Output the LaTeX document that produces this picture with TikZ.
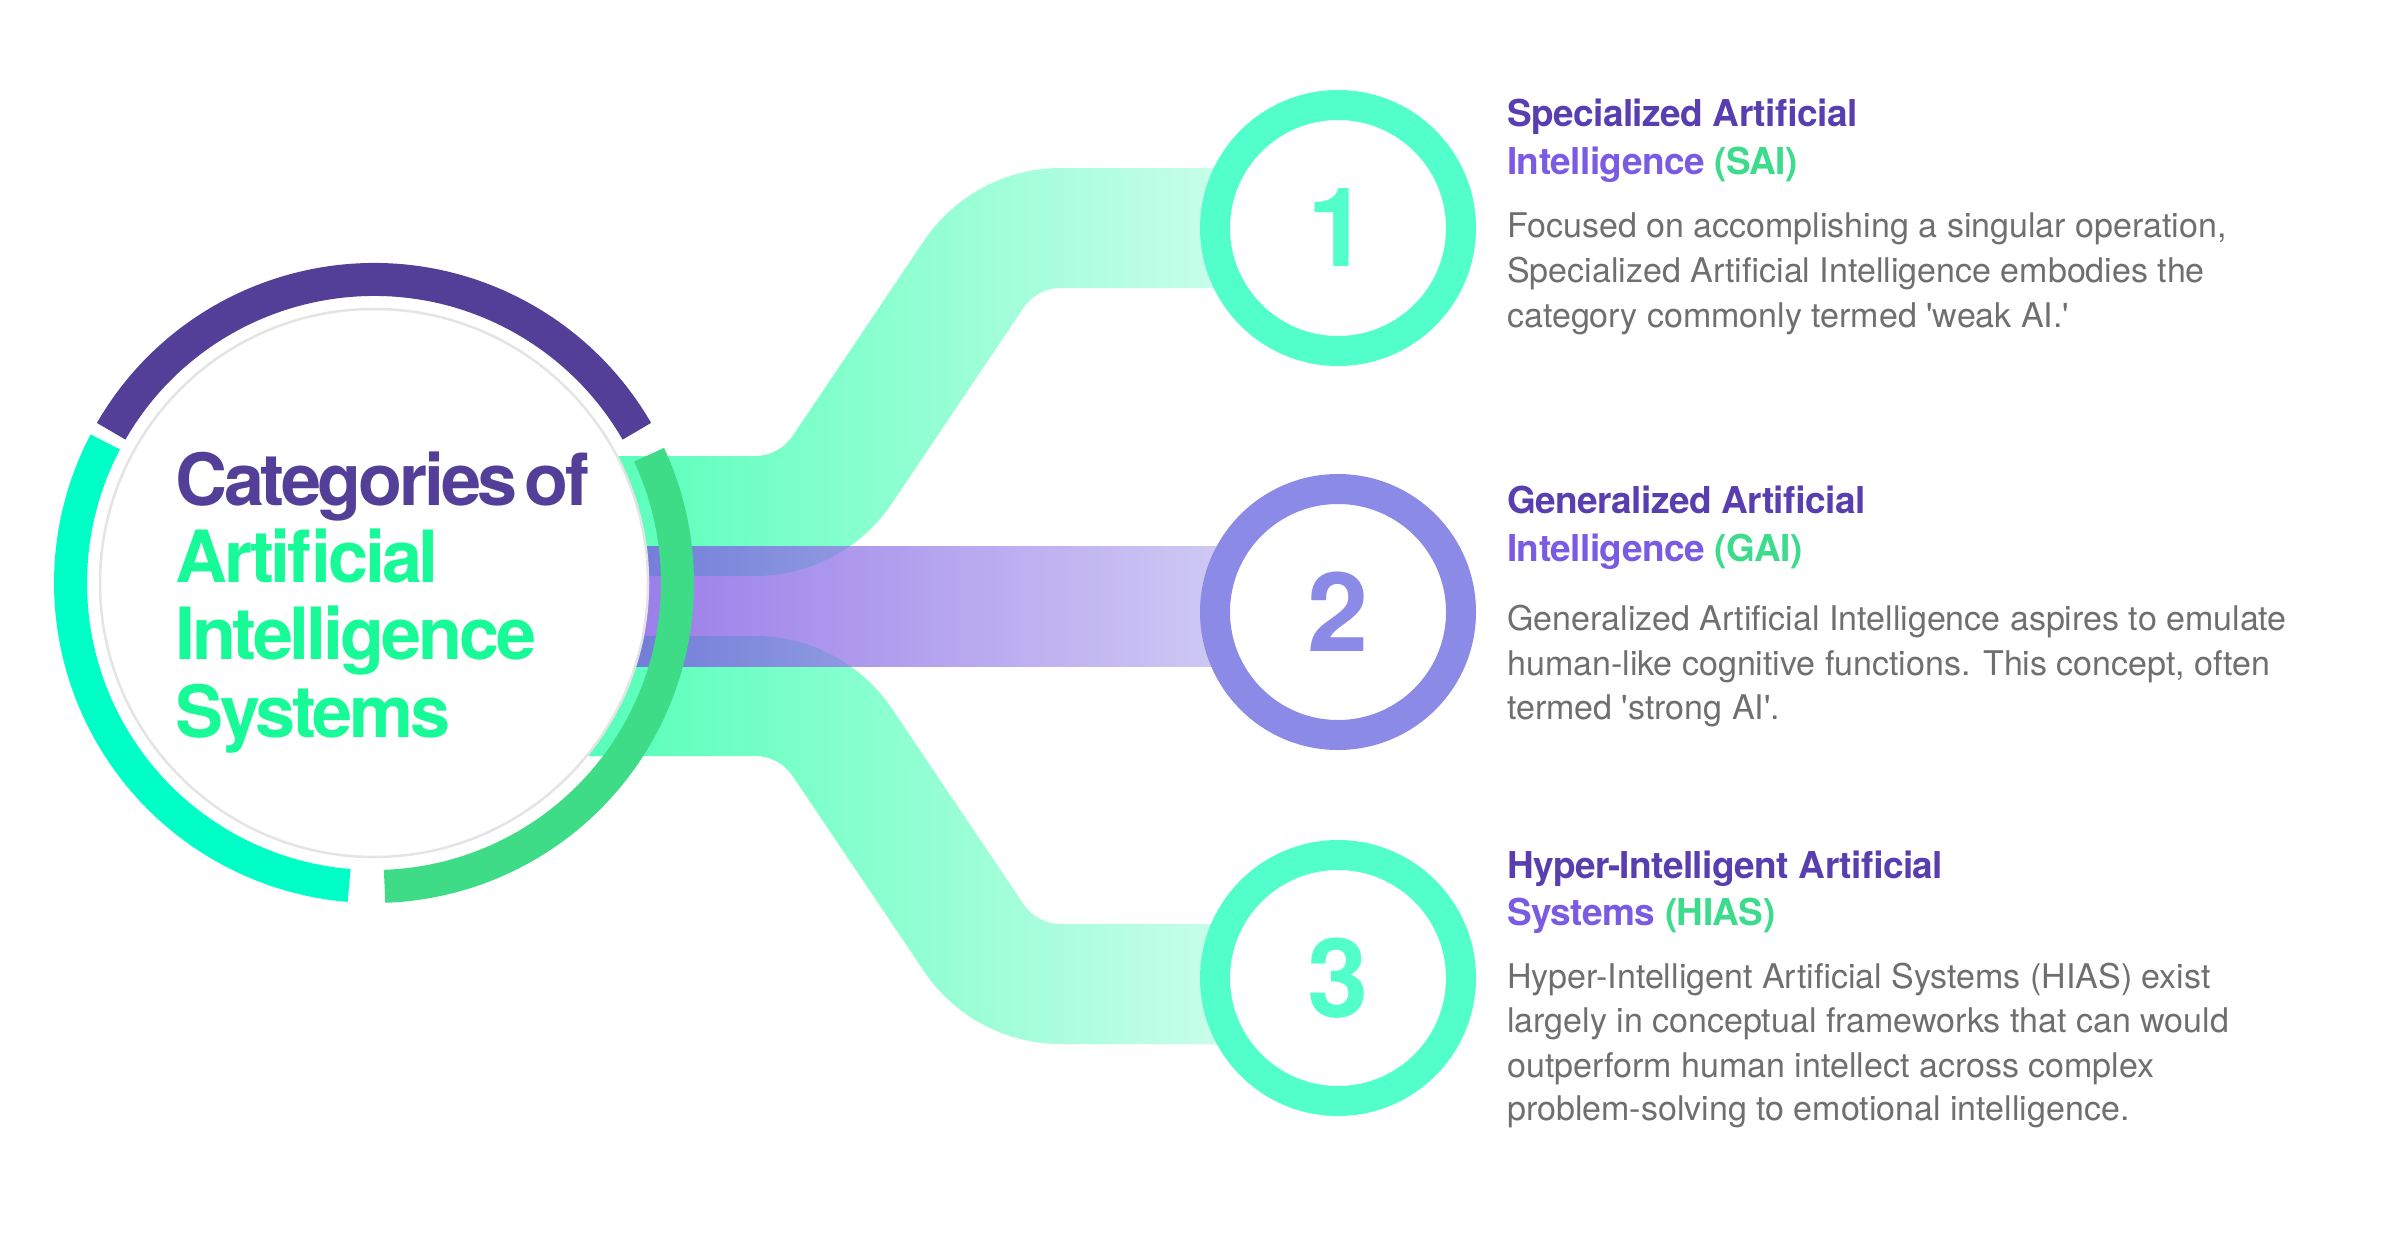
\documentclass[tikz,border=0pt]{standalone}
\usepackage{fontspec}
\setmainfont{TeX Gyre Heros}
\newfontfamily\tightfamily{TeX Gyre Heros}[LetterSpace=-4.5]
\newfontfamily\semifamily{TeX Gyre Heros}[LetterSpace=-1.5]
\usetikzlibrary{calc}
\definecolor{ringpurple}{HTML}{533F97}
\definecolor{ringcyan}{HTML}{00FFC6}
\definecolor{ringgreen}{HTML}{3FDC87}
\definecolor{titlegreen}{HTML}{18FA97}
\definecolor{graycirc}{HTML}{E4E4E4}
\definecolor{mint}{HTML}{52FFCB}
\definecolor{lav}{HTML}{8B8AE6}
\definecolor{headdark}{HTML}{583EAE}
\definecolor{headlight}{HTML}{7C5BE3}
\definecolor{acrgreen}{HTML}{3DDB8C}
\definecolor{bodygray}{HTML}{6F6F6F}
\definecolor{bandL}{HTML}{45FFB2}
\definecolor{bandR}{HTML}{DEFEF3}
\definecolor{purpL}{HTML}{6A3BE0}
\definecolor{purpR}{HTML}{CCCCF2}
\newcommand\bigfnt{\tightfamily\bfseries\fontsize{72}{76}\selectfont}
\newcommand\headfnt{\semifamily\bfseries\fontsize{37}{47}\selectfont}
\newcommand\bodyfnt{\fontsize{34}{45}\selectfont}
\newcommand\numfnt{\bfseries\fontsize{110}{110}\selectfont}
\tikzset{
  bigtxt/.style={anchor=base west, inner sep=0pt, font=\bigfnt},
  headtxt/.style={anchor=base west, inner sep=0pt, font=\headfnt, text=headdark},
  bodytxt/.style={anchor=base west, inner sep=0pt, font=\bodyfnt, text=bodygray},
  numtxt/.style={inner sep=0pt, font=\numfnt},
  arcseg/.style={line width=33pt},
  smallring/.style={line width=30pt, fill=white}
}
\begin{document}
\begin{tikzpicture}[x=1pt,y=1pt]
\useasboundingbox (0,0) rectangle (2400,-1236);
\fill[white] (0,0) rectangle (2400,-1236);

% named anchor points
\coordinate (mc) at (374,-583);
\coordinate (c1) at (1338,-228);
\coordinate (c2) at (1338,-612);
\coordinate (c3) at (1338,-978);
\coordinate (o1) at (755.2,-411);
\coordinate (o2) at (1060.8,-333);
\coordinate (p1) at (755.2,-801);
\coordinate (p2) at (1060.8,-879);

% upper band
\shade[left color=bandL, right color=bandR]
  (500,-456) -- (755.2,-456) arc[start angle=-90,end angle=-34,radius=45pt]
  -- ($(o2)+(146:165pt)$) arc[start angle=146,end angle=90,radius=165pt]
  -- (1340,-168) -- (1340,-288) -- (1060.8,-288)
  arc[start angle=90,end angle=146,radius=45pt]
  -- ($(o1)+(-34:165pt)$) arc[start angle=-34,end angle=-90,radius=165pt]
  -- (500,-576) -- cycle;
% lower band
\shade[left color=bandL, right color=bandR]
  (500,-756) -- (755.2,-756) arc[start angle=90,end angle=34,radius=45pt]
  -- ($(p2)+(-146:165pt)$) arc[start angle=-146,end angle=-90,radius=165pt]
  -- (1340,-1044) -- (1340,-924) -- (1060.8,-924)
  arc[start angle=-90,end angle=-146,radius=45pt]
  -- ($(p1)+(34:165pt)$) arc[start angle=34,end angle=90,radius=165pt]
  -- (500,-636) -- cycle;
% middle band
\shade[left color=purpL, right color=purpR, fill opacity=0.75]
  (500,-546) rectangle (1340,-666);

% main circle
\draw[line width=2.5pt, draw=graycirc, fill=white] (mc) circle[radius=274pt];
\draw[arcseg, ringpurple] ($(mc)+(150:303.5pt)$) arc[start angle=150,end angle=30,radius=303.5pt];
\draw[arcseg, ringcyan] ($(mc)+(152.3:303.5pt)$) arc[start angle=152.3,end angle=265.3,radius=303.5pt];
\draw[arcseg, ringgreen] ($(mc)+(272:303.5pt)$) arc[start angle=272,end angle=385,radius=303.5pt];

\node[bigtxt, text=ringpurple] (t1) at (175,-505) {Categories\hspace{-10pt} of};
\node[bigtxt, text=titlegreen] (t2) at (175,-582) {Artificial};
\node[bigtxt, text=titlegreen] (t3) at (175,-659) {Intelligence};
\node[bigtxt, text=titlegreen] (t4) at (175,-737) {Systems};

% numbered circles
\draw[smallring, draw=mint] (c1) circle[radius=123pt];
\draw[smallring, draw=lav] (c2) circle[radius=123pt];
\draw[smallring, draw=mint] (c3) circle[radius=123pt];
\node[numtxt, text=mint] (n1) at (c1) {1};
\node[numtxt, text=lav] (n2) at (c2) {2};
\node[numtxt, text=mint] (n3) at (c3) {3};

% block 1
\node[headtxt] (h1a) at (1507,-127) {Specialized Artificial};
\node[headtxt] (h1b) at (1507,-174) {\color{headlight}Intelligence \color{acrgreen}(SAI)};
\node[bodytxt] (b1a) at (1507,-237) {Focused on accomplishing a singular operation,};
\node[bodytxt] (b1b) at (1507,-282) {Specialized Artificial Intelligence embodies the};
\node[bodytxt] (b1c) at (1507,-327) {category commonly termed \textquotesingle weak AI.\textquotesingle};

% block 2
\node[headtxt] (h2a) at (1507,-513) {Generalized Artificial};
\node[headtxt] (h2b) at (1507,-561) {\color{headlight}Intelligence \color{acrgreen}(GAI)};
\node[bodytxt] (b2a) at (1507,-630) {Generalized Artificial Intelligence aspires to emulate};
\node[bodytxt] (b2b) at (1507,-675) {human-like cognitive functions. This concept, often};
\node[bodytxt] (b2c) at (1507,-719) {termed \textquotesingle strong AI\textquotesingle.};

% block 3
\node[headtxt] (h3a) at (1507,-878) {Hyper-Intelligent Artificial};
\node[headtxt] (h3b) at (1507,-925) {\color{headlight}Systems \color{acrgreen}(HIAS)};
\node[bodytxt] (b3a) at (1507,-988) {Hyper-Intelligent Artificial Systems (HIAS) exist};
\node[bodytxt] (b3b) at (1507,-1032) {largely in conceptual frameworks that can would};
\node[bodytxt] (b3c) at (1507,-1077) {outperform human intellect across complex};
\node[bodytxt] (b3d) at (1507,-1120) {problem-solving to emotional intelligence.};
\end{tikzpicture}
\end{document}
